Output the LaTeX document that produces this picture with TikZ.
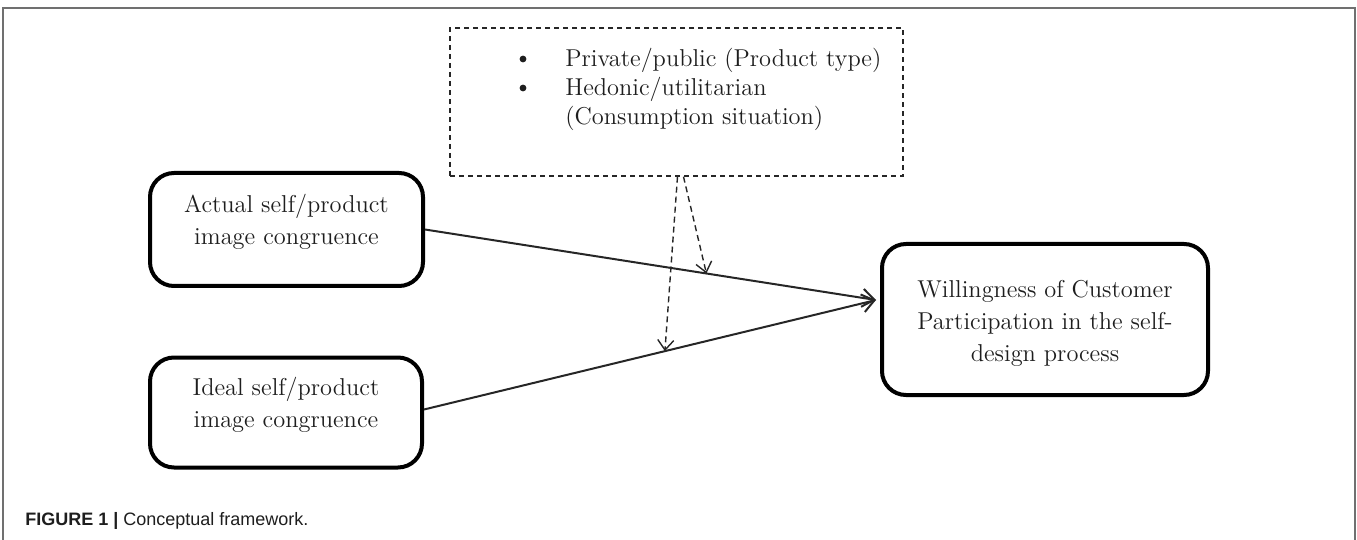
\documentclass[tikz,border=0pt]{standalone}
\usepackage{fontspec}
\newfontfamily\capfont{Liberation Sans}
\usetikzlibrary{arrows.meta}
\definecolor{ink}{HTML}{1E1E1E}
\definecolor{framegray}{HTML}{707070}
\tikzset{
  concept/.style={draw=black, line width=2pt, rounded corners=12pt, inner sep=0pt},
  boxtext/.style={align=center, text=ink, font=\fontsize{12.2pt}{16pt}\selectfont, inner sep=0pt},
  modbox/.style={draw=black!85, dash pattern=on 2.5pt off 2pt, line width=0.7pt, inner sep=0pt},
  bodytext/.style={text=ink, font=\fontsize{12.2pt}{14.5pt}\selectfont, inner sep=0pt},
  bulletmark/.style={circle, fill=ink, draw=none, minimum size=3.4pt, inner sep=0pt},
  effect/.style={draw=black!85, line width=1pt, -{Straight Barb[length=6pt,width=9pt,line width=1pt]}},
  moderate/.style={draw=black!85, line width=0.7pt, dash pattern=on 3pt off 2pt,
    -{Straight Barb[length=5pt,width=8pt,line width=0.7pt]}},
}
\begin{document}
\begin{tikzpicture}[x=0.5pt,y=-0.5pt]
\useasboundingbox (0,0) rectangle (1357,540);
% frame
\draw[framegray, line width=0.8pt] (3,540) -- (3,8) -- (1355,8) -- (1355,540);
% moderator box
\node[modbox, minimum width=226.5pt, minimum height=74pt] (mod) at (676.5,102) {};
\node[bulletmark] (b1) at (523,59) {};
\node[bulletmark] (b2) at (523,88) {};
\node[bodytext, anchor=base west] (t1) at (565,67) {Private/public (Product type)};
\node[bodytext, anchor=base west] (t2) at (565,96) {Hedonic/utilitarian};
\node[bodytext, anchor=base west] (t3) at (565,125) {(Consumption situation)};
% concept boxes
\node[concept, minimum width=136.5pt, minimum height=56.5pt] (act) at (286.5,229.5) {};
\node[boxtext] (actlbl) at ([yshift=4pt]act.center) {Actual self/product\\image congruence};
\node[concept, minimum width=136pt, minimum height=55pt] (ideal) at (286,412.5) {};
\node[boxtext] (ideallbl) at ([yshift=4pt]ideal.center) {Ideal self/product\\image congruence};
\node[concept, minimum width=163pt, minimum height=75.5pt] (will) at (1045,319.5) {};
\node[boxtext] (willlbl) at ([yshift=-2pt]will.center) {Willingness of Customer\\Participation in the self-\\design process};
% connectors
\coordinate (tip) at ([xshift=-2pt,yshift=9.75pt]will.west);
\draw[effect] (act.east) -- (tip);
\draw[effect] ([yshift=1.5pt]ideal.east) -- (tip);
\path (act.east) -- (tip) coordinate[pos=0.624] (p1);
\path ([yshift=1.5pt]ideal.east) -- (tip) coordinate[pos=0.533] (p2);
\draw[moderate] ([xshift=3.5pt]mod.south) -- (p1);
\draw[moderate] ([xshift=0.5pt]mod.south) -- (p2);
% caption
\node[anchor=base west, inner sep=0pt, text=ink, font=\capfont\fontsize{9pt}{11pt}\selectfont] (cap) at (25,525)
  {\textbf{FIGURE 1 |} Conceptual framework.};
\end{tikzpicture}
\end{document}
